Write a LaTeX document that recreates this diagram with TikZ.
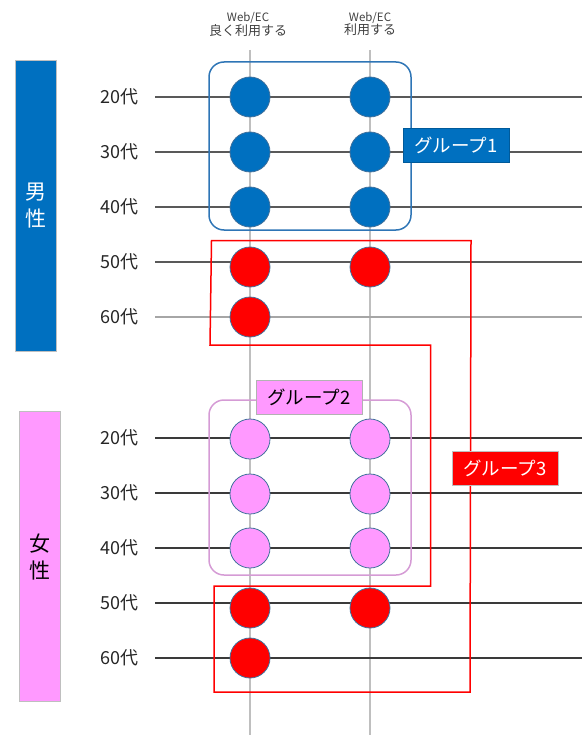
\documentclass[tikz,border=0pt]{standalone}
\usepackage{fontspec}
\setmainfont{Noto Sans CJK JP}
\definecolor{mblue}{HTML}{0070C0}
\definecolor{g1edge}{HTML}{2E75B6}
\definecolor{fpink}{HTML}{FF99FF}
\definecolor{gred}{HTML}{FF0000}
\definecolor{dotedge}{HTML}{41719C}
\definecolor{g2edge}{HTML}{D59BD5}
\definecolor{rowdark}{HTML}{595959}
\definecolor{rowlight}{HTML}{A6A6A6}
\definecolor{rowfem}{HTML}{3A3A3A}
\definecolor{colgray}{HTML}{BFBFBF}
\definecolor{txt}{HTML}{262626}
\begin{document}
\begin{tikzpicture}[x=1pt,y=-1pt,
  dot/.style={circle, minimum size=40pt, inner sep=0pt, draw=dotedge, line width=0.8pt},
  rowline/.style={line width=1.5pt},
  colline/.style={line width=1.3pt, draw=colgray},
  agelabel/.style={font=\fontsize{18}{20}\selectfont, text=txt, inner sep=0pt},
  sexbox/.style={draw=black!25, line width=0.6pt, minimum width=41pt, minimum height=290pt, inner sep=0pt, align=center, font=\fontsize{21}{27}\selectfont},
  grouplabel/.style={minimum width=106pt, minimum height=34pt, inner sep=0pt, font=\fontsize{18.5}{20}\selectfont},
  header/.style={align=center, text=black!75, inner sep=0pt}
]
\useasboundingbox (0,0) rectangle (582,735);

% column lines
\coordinate (ca1) at (250,50); \coordinate (ca2) at (250,735);
\coordinate (cb1) at (370,50); \coordinate (cb2) at (370,735);
\draw[colline] (ca1) -- (ca2);
\draw[colline] (cb1) -- (cb2);

% headers
\node[header] (h1) at (248,24) {{\fontsize{11.5}{15}\selectfont Web/EC}\\{\fontsize{13}{17}\selectfont 良く利用する}};
\node[header] (h2) at (370,24) {{\fontsize{11.5}{15}\selectfont Web/EC}\\{\fontsize{13}{17}\selectfont 利用する}};

% sex boxes
\node[sexbox, fill=mblue, text=white] (male) at (36.2,205.8) {男\\性};
\node[sexbox, fill=fpink, text=black] (female) at (39.8,556.7) {女\\性};

% age labels and row lines
\foreach \n/\y/\c/\t in {m20/97/rowdark/20代, m30/152/rowdark/30代, m40/207/rowdark/40代, m50/262/rowdark/50代, m60/317/rowlight/60代,
                        f20/438/rowfem/20代, f30/493/rowfem/30代, f40/548/rowfem/40代, f50/603/rowfem/50代, f60/658/rowfem/60代}{
  \node[agelabel, anchor=east] (l\n) at (139,\y) {\t};
  \coordinate (s\n) at (155,\y);
  \coordinate (e\n) at (582,\y);
  \draw[rowline, draw=\c] (s\n) -- (e\n);
}

% group 1 box
\draw[g1edge, line width=1.5pt, rounded corners=15pt] (209,62) rectangle (411,230);
% group 2 box
\draw[g2edge, line width=1.5pt, rounded corners=15pt] (209,400) rectangle (411,575);

% circles
\foreach \n/\x/\y in {a20/250/97, b20/370/97, a30/250/152, b30/370/152, a40/250/207, b40/370/207}{
  \node[dot, fill=mblue] (m\n) at (\x,\y) {};
}
\foreach \n/\x/\y in {a20/250/439, b20/370/439, a30/250/494, b30/370/494, a40/250/548, b40/370/548}{
  \node[dot, fill=fpink] (f\n) at (\x,\y) {};
}
\node[dot, fill=gred] (ma50) at (250,267) {};
\node[dot, fill=gred] (mb50) at (370,267) {};
\node[dot, fill=gred] (ma60) at (250,317) {};
\node[dot, fill=gred] (fa50) at (250,608) {};
\node[dot, fill=gred] (fb50) at (370,608) {};
\node[dot, fill=gred] (fa60) at (250,658) {};

% group 3 outline
\draw[gred, line width=1.5pt] (211.5,240.5) -- (471,240.5) -- (470,692) -- (214,692) -- (214,586) -- (430.5,586) -- (430.5,345) -- (210,345) -- cycle;

% group labels
\node[grouplabel, fill=mblue, draw=mblue!80!black, line width=0.5pt, text=white] (g1) at (456,145) {グループ1};
\node[grouplabel, fill=fpink, draw=black!30, line width=0.6pt, text=black] (g2) at (309,397.5) {グループ2};
\node[grouplabel, fill=gred, draw=black!25, line width=0.5pt, text=white] (g3) at (505,468) {グループ3};
\end{tikzpicture}
\end{document}
